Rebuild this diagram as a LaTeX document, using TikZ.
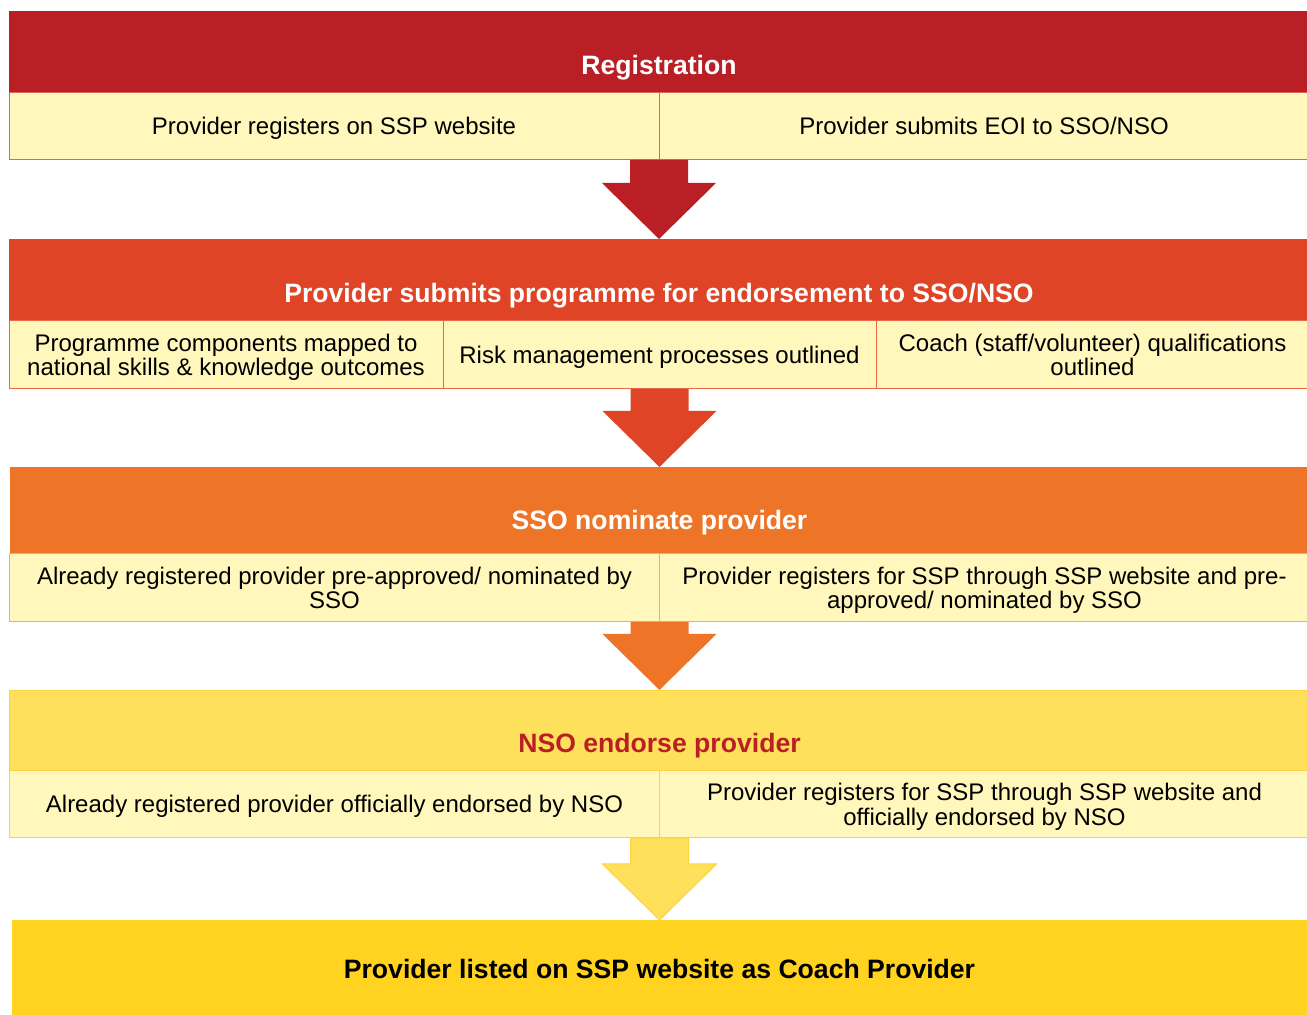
\documentclass[tikz,border=0pt]{standalone}
\usepackage{fontspec}
\setmainfont{Liberation Sans}
\usetikzlibrary{positioning}

\definecolor{regred}{RGB}{186,31,38}
\definecolor{progred}{RGB}{224,68,38}
\definecolor{ssoorange}{RGB}{238,117,40}
\definecolor{nsoyellow}{RGB}{255,224,90}
\definecolor{listgold}{RGB}{255,211,32}
\definecolor{cream}{RGB}{255,247,188}
\definecolor{regline}{RGB}{226,100,90}
\definecolor{progline}{RGB}{232,104,72}
\definecolor{ssoline}{RGB}{245,172,104}
\definecolor{nsoline}{RGB}{255,210,64}

\tikzset{
  hdr/.style={fill=#1, minimum width=1300pt, inner sep=0pt, outer sep=0pt, text height=64pt,
    text depth=18pt, text=white, font=\bfseries\fontsize{26.6}{28}\selectfont},
  sub/.style={fill=cream, draw=#1, line width=1pt, minimum height=67pt, inner sep=0pt,
    outer sep=0pt, align=center, font=\fontsize{24}{24.5}\selectfont},
  oneline/.style={text height=17pt, text depth=0pt},
  twoline/.style={text depth=0pt},
}

\begin{document}
\begin{tikzpicture}[x=1pt, y=1pt]
  \useasboundingbox (0,0) rectangle (1307,1015);
  \clip (0,0) rectangle (1307,1015);

  % Registration
  \node[hdr=regred, anchor=north west] (reg) at (9,1004) {Registration};
  \node[sub=regline, oneline, minimum width=650pt, below right=0pt and 0pt of reg.south west] (regA)
    {Provider registers on SSP website};
  \node[sub=regline, oneline, minimum width=650pt, right=0pt of regA] (regB)
    {Provider submits EOI to SSO/NSO};

  % Programme endorsement
  \node[hdr=progred, below=79pt of regA.south east] (prog)
    {Provider submits programme for endorsement to SSO/NSO};
  \node[sub=progline, twoline, minimum width=434pt, minimum height=68pt, below right=0pt and 0pt of prog.south west] (progA)
    {Programme components mapped to\\national skills \& knowledge outcomes};
  \node[sub=progline, oneline, minimum width=433pt, minimum height=68pt, right=0pt of progA] (progB)
    {Risk management processes outlined};
  \node[sub=progline, twoline, minimum width=433pt, minimum height=68pt, right=0pt of progB] (progC)
    {Coach (staff/volunteer) qualifications\\outlined};

  % SSO nomination
  \node[hdr=ssoorange, text height=63pt, text depth=24pt, below=78pt of progB.south] (sso)
    {SSO nominate provider};
  \node[sub=ssoline, twoline, minimum width=650pt, minimum height=68pt, below right=0pt and 0pt of sso.south west] (ssoA)
    {Already registered provider pre-approved/ nominated by\\SSO};
  \node[sub=ssoline, twoline, minimum width=650pt, minimum height=68pt, right=0pt of ssoA] (ssoB)
    {Provider registers for SSP through SSP website and pre-\\approved/ nominated by SSO};

  % NSO endorsement
  \node[hdr=nsoyellow, draw=nsoline, text=regred, text height=63pt, below=68pt of ssoA.south east] (nso)
    {NSO endorse provider};
  \node[sub=nsoline, oneline, minimum width=650pt, below right=0pt and 0pt of nso.south west] (nsoA)
    {Already registered provider officially endorsed by NSO};
  \node[sub=nsoline, twoline, minimum width=650pt, right=0pt of nsoA] (nsoB)
    {Provider registers for SSP through SSP website and\\officially endorsed by NSO};

  % Result
  \node[hdr=listgold, text=black, minimum width=1295pt, text height=59pt, text depth=36pt,
    below=82pt of nsoA.south east] (listed)
    {Provider listed on SSP website as Coach Provider};

  % Arrows between steps
  \foreach \from/\to/\col in {regA.south east/prog.north/regred,
      progB.south/sso.north/progred, ssoA.south east/nso.north/ssoorange}
    \fill[\col] ([xshift=-29pt]\from) -- ([xshift=29pt]\from)
      -- ([shift={(29pt,56pt)}]\to) -- ([shift={(57pt,56pt)}]\to) -- (\to)
      -- ([shift={(-57pt,56pt)}]\to) -- ([shift={(-29pt,56pt)}]\to) -- cycle;
  \filldraw[fill=nsoyellow, draw=nsoline, line width=1pt]
    ([xshift=-29pt]nsoA.south east) -- ([xshift=29pt]nsoA.south east)
    -- ([shift={(29pt,56pt)}]listed.north) -- ([shift={(57pt,56pt)}]listed.north) -- (listed.north)
    -- ([shift={(-57pt,56pt)}]listed.north) -- ([shift={(-29pt,56pt)}]listed.north) -- cycle;
\end{tikzpicture}
\end{document}
